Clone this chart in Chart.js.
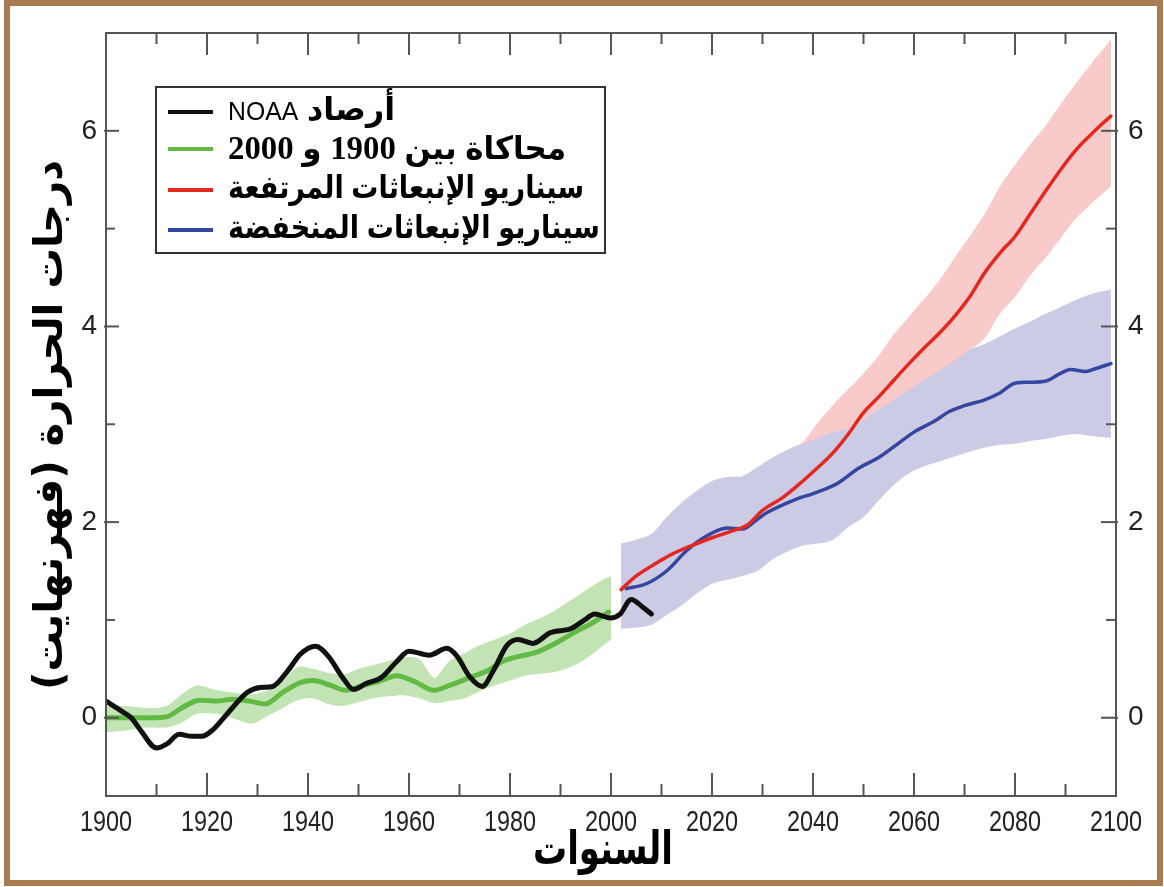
<!DOCTYPE html>
<html>
<head>
<meta charset="utf-8">
<script src="https://cdn.jsdelivr.net/npm/chart.js@4.4.1/dist/chart.umd.min.js"></script>
<style>
  html, body { margin: 0; padding: 0; background: #fff; }
  canvas { display: block; }
</style>
</head>
<body>
<canvas id="chart" width="1164" height="887"></canvas>
<script>
// ---- tick labels and texts ----
const xTickYears = [1900, 1920, 1940, 1960, 1980, 2000, 2020, 2040, 2060, 2080, 2100];
const yTickValues = [0, 2, 4, 6];
const seriesLabels = [
  'أرصاد NOAA',
  'محاكاة بين 1900 و 2000',
  'سيناريو الإنبعاثات المرتفعة',
  'سيناريو الإنبعاثات المنخفضة'
];
const xAxisTitle = 'السنوات';
const yAxisTitle = 'درجات الحرارة (فهرنهايت)';

// ---- NOAA observations (smoothed) ----
const noaaYears = [1900, 1903, 1905, 1907, 1910, 1912, 1914.5, 1917, 1919, 1921, 1923, 1925, 1928, 1930.5, 1933, 1936, 1938.5, 1941.5, 1944, 1947, 1949, 1951.5, 1954.5, 1957.5, 1960, 1964, 1967.5, 1969.5, 1972, 1974.5, 1976.7, 1979.4, 1981.6, 1984.5, 1988, 1992, 1994.5, 1996.8, 1999.8, 2001.8, 2004, 2006.3, 2008];
const noaaTemps = [0.17, 0.07, 0.0, -0.14, -0.31, -0.27, -0.17, -0.19, -0.19, -0.13, -0.02, 0.10, 0.26, 0.31, 0.32, 0.48, 0.65, 0.73, 0.63, 0.40, 0.29, 0.35, 0.41, 0.57, 0.68, 0.64, 0.71, 0.63, 0.42, 0.32, 0.48, 0.74, 0.80, 0.76, 0.87, 0.91, 0.99, 1.06, 1.02, 1.06, 1.21, 1.13, 1.06];

// ---- model simulation 1900-2000 ----
const simYears = [1900, 1904, 1909, 1912, 1915, 1918.5, 1922, 1925, 1928.5, 1931.5, 1935, 1938.5, 1941, 1944.5, 1947.5, 1951, 1954.5, 1957.5, 1961.5, 1964.8, 1968, 1972, 1975.5, 1978.7, 1982, 1985.3, 1989.3, 1993.3, 1996, 1999.5];
const simTemps = [0.00, 0.00, 0.00, 0.01, 0.10, 0.18, 0.17, 0.19, 0.17, 0.14, 0.26, 0.36, 0.38, 0.33, 0.28, 0.33, 0.38, 0.43, 0.36, 0.28, 0.33, 0.41, 0.48, 0.58, 0.63, 0.67, 0.77, 0.89, 0.96, 1.08];
const simBandYears = [1900, 1904, 1908, 1912, 1915, 1918, 1922, 1926, 1929, 1932, 1935, 1938, 1941, 1944, 1947, 1950, 1953, 1956, 1959, 1962, 1965, 1968, 1971, 1974, 1977, 1980, 1983, 1986, 1989, 1992, 1995, 1998, 2000];
const simBandHigh = [0.12, 0.12, 0.10, 0.12, 0.24, 0.33, 0.28, 0.25, 0.24, 0.28, 0.38, 0.52, 0.50, 0.46, 0.44, 0.50, 0.54, 0.58, 0.62, 0.60, 0.41, 0.58, 0.66, 0.74, 0.80, 0.86, 0.95, 1.02, 1.10, 1.20, 1.30, 1.40, 1.45];
const simBandLow = [-0.15, -0.13, -0.10, -0.10, -0.05, 0.04, 0.04, -0.02, -0.06, 0.02, 0.10, 0.18, 0.20, 0.14, 0.12, 0.16, 0.20, 0.22, 0.23, 0.20, 0.15, 0.17, 0.20, 0.27, 0.33, 0.38, 0.43, 0.45, 0.47, 0.52, 0.60, 0.72, 0.80];

// ---- high emissions scenario ----
const highYears = [2002, 2005, 2008, 2012, 2016, 2020, 2024, 2027, 2030, 2034, 2038, 2041, 2044, 2047, 2050, 2053, 2056, 2059, 2062, 2065, 2068, 2071, 2074, 2077, 2080, 2083, 2086, 2089, 2092, 2095, 2097, 2099];
const highTemps = [1.31, 1.45, 1.55, 1.67, 1.76, 1.84, 1.91, 1.97, 2.12, 2.25, 2.42, 2.56, 2.71, 2.90, 3.12, 3.28, 3.45, 3.62, 3.78, 3.93, 4.10, 4.30, 4.55, 4.75, 4.92, 5.15, 5.38, 5.60, 5.80, 5.96, 6.06, 6.15];

// ---- low emissions scenario ----
const lowYears = [2003, 2007, 2011, 2015, 2019, 2023, 2026, 2029, 2031, 2036, 2041, 2045, 2049, 2053, 2056, 2060, 2064, 2067, 2070, 2074, 2077, 2080, 2083, 2086, 2089, 2091, 2094, 2096, 2099];
const lowTemps = [1.32, 1.37, 1.50, 1.71, 1.86, 1.94, 1.93, 2.03, 2.10, 2.22, 2.31, 2.40, 2.55, 2.66, 2.77, 2.92, 3.03, 3.13, 3.19, 3.25, 3.32, 3.42, 3.43, 3.44, 3.52, 3.56, 3.54, 3.57, 3.62];

// ---- scenario ranges ----
const scenBandYears = [2002, 2005, 2008, 2011, 2014, 2017, 2020, 2023, 2026, 2029, 2032, 2035, 2038, 2041, 2044, 2047, 2050, 2053, 2056, 2059, 2062, 2065, 2068, 2071, 2074, 2077, 2080, 2083, 2086, 2089, 2092, 2095, 2099];
const highBandHigh = [1.70, 1.75, 1.85, 1.95, 2.05, 2.15, 2.25, 2.33, 2.40, 2.50, 2.64, 2.74, 2.82, 3.02, 3.20, 3.36, 3.52, 3.70, 3.92, 4.10, 4.28, 4.47, 4.70, 4.92, 5.15, 5.43, 5.65, 5.86, 6.05, 6.27, 6.48, 6.68, 6.93];
const highBandLow = [0.95, 1.00, 1.10, 1.20, 1.30, 1.40, 1.50, 1.55, 1.60, 1.70, 1.80, 1.90, 2.00, 2.15, 2.30, 2.45, 2.65, 2.80, 2.95, 3.10, 3.25, 3.40, 3.55, 3.75, 3.88, 4.13, 4.30, 4.52, 4.70, 4.90, 5.10, 5.25, 5.43];
const lowBandHigh = [1.78, 1.82, 1.88, 2.05, 2.20, 2.32, 2.42, 2.46, 2.47, 2.56, 2.66, 2.74, 2.80, 2.86, 2.92, 2.96, 3.05, 3.15, 3.25, 3.35, 3.45, 3.55, 3.65, 3.76, 3.82, 3.90, 3.98, 4.05, 4.13, 4.20, 4.27, 4.33, 4.38];
const lowBandLow = [0.91, 0.92, 0.95, 1.05, 1.15, 1.27, 1.37, 1.41, 1.45, 1.50, 1.62, 1.70, 1.76, 1.78, 1.82, 1.95, 2.05, 2.22, 2.38, 2.50, 2.57, 2.62, 2.67, 2.72, 2.76, 2.79, 2.80, 2.83, 2.85, 2.88, 2.90, 2.88, 2.86];

// ---- colours ----
const COL_OBS = '#111111';
const COL_SIM = 'rgb(98,186,68)';
const COL_SIM_BAND = 'rgba(120,196,88,0.45)';
const COL_HIGH = 'rgb(228,40,32)';
const COL_HIGH_BAND = 'rgb(249,202,202)';
const COL_LOW = 'rgb(52,70,160)';
const COL_LOW_BAND = 'rgb(204,203,229)';
const COL_AXIS = '#555555';
const COL_FRAME = '#A97B50';

const pts = (xs, ys) => xs.map((x, i) => ({ x, y: ys[i] }));

const line = (label, xs, ys, color, width) => ({
  label, data: pts(xs, ys), borderColor: color, backgroundColor: color,
  borderWidth: width, pointRadius: 0, fill: false,
  cubicInterpolationMode: 'monotone', borderCapStyle: 'round', borderJoinStyle: 'round'
});
const edge = (xs, ys) => ({
  data: pts(xs, ys), borderWidth: 0, pointRadius: 0, fill: false, tension: 0.3,
  borderColor: 'rgba(0,0,0,0)'
});
const bandTop = (xs, ys, color, target) => ({
  data: pts(xs, ys), borderWidth: 0, pointRadius: 0, tension: 0.3,
  borderColor: 'rgba(0,0,0,0)', backgroundColor: color, fill: target
});

// dataset 0 is painted last (on top)
const datasets = [
  line(seriesLabels[0], noaaYears, noaaTemps, COL_OBS, 5),
  line(seriesLabels[1], simYears, simTemps, COL_SIM, 5),
  line(seriesLabels[2], highYears, highTemps, COL_HIGH, 3.5),
  line(seriesLabels[3], lowYears, lowTemps, COL_LOW, 3.5),
  edge(scenBandYears, lowBandLow),                                   // 4
  bandTop(scenBandYears, lowBandHigh, COL_LOW_BAND, 4),              // 5
  edge(scenBandYears, highBandLow),                                  // 6
  bandTop(scenBandYears, highBandHigh, COL_HIGH_BAND, 6),            // 7
  edge(simBandYears, simBandLow),                                    // 8
  bandTop(simBandYears, simBandHigh, COL_SIM_BAND, 8)                // 9
];

function strokeLine(ctx, x1, y1, x2, y2) {
  ctx.beginPath(); ctx.moveTo(x1, y1); ctx.lineTo(x2, y2); ctx.stroke();
}

// legend row: words laid out right-to-left, fitted between x0 and xEnd
function drawLegendRow(ctx, label, x0, baseline, xEnd) {
  const words = label.split(' ').reverse();
  const pieces = words.map(w => {
    let font;
    if (/[A-Za-z]/.test(w)) font = '25px "Liberation Sans", Arial, sans-serif';
    else if (/^[0-9]+$/.test(w)) font = 'bold 34px "Liberation Serif", "Times New Roman", serif';
    else font = 'bold 32px "DejaVu Sans", sans-serif';
    ctx.font = font;
    return { w, font, width: ctx.measureText(w).width };
  });
  const gap = 9;
  const total = pieces.reduce((s, p) => s + p.width, 0) + gap * (pieces.length - 1);
  const sx = (xEnd - x0) / total;
  ctx.save();
  ctx.translate(x0, baseline);
  ctx.scale(sx, 1);
  ctx.fillStyle = '#000';
  ctx.textAlign = 'left';
  ctx.textBaseline = 'alphabetic';
  let cx = 0;
  pieces.forEach(p => {
    ctx.font = p.font;
    ctx.fillText(p.w, cx, 0);
    cx += p.width + gap;
  });
  ctx.restore();
}

const decor = {
  id: 'decor',
  beforeDraw(chart) {
    const ctx = chart.ctx;
    ctx.save();
    ctx.fillStyle = '#ffffff';
    ctx.fillRect(0, 0, chart.width, chart.height);
    ctx.restore();
  },
  afterDraw(chart) {
    const ctx = chart.ctx;
    const { left, right, top, bottom } = chart.chartArea;
    const xs = chart.scales.x, ys = chart.scales.y;
    ctx.save();

    // plot box and inward ticks
    ctx.strokeStyle = COL_AXIS;
    ctx.lineWidth = 2;
    ctx.strokeRect(left, top, right - left, bottom - top);
    xTickYears.forEach((v, i) => {
      const px = xs.getPixelForValue(v);
      strokeLine(ctx, px, bottom, px, bottom - 23);
      strokeLine(ctx, px, top, px, top + 22);
      if (i < xTickYears.length - 1) {
        const pm = xs.getPixelForValue((v + xTickYears[i + 1]) / 2);
        strokeLine(ctx, pm, bottom, pm, bottom - 12);
        strokeLine(ctx, pm, top, pm, top + 11);
      }
    });
    yTickValues.forEach((v, i) => {
      const py = ys.getPixelForValue(v);
      strokeLine(ctx, left - 2, py, left + 13, py);
      strokeLine(ctx, right + 2, py, right - 15, py);
      if (i < yTickValues.length - 1) {
        const pm = ys.getPixelForValue((v + yTickValues[i + 1]) / 2);
        strokeLine(ctx, left, pm, left + 9, pm);
        strokeLine(ctx, right, pm, right - 10, pm);
      }
    });

    // year labels (condensed face)
    ctx.fillStyle = '#222';
    ctx.font = '30px "Liberation Sans", Arial, sans-serif';
    ctx.textAlign = 'center';
    ctx.textBaseline = 'alphabetic';
    xTickYears.forEach(v => {
      const px = xs.getPixelForValue(v);
      ctx.save();
      ctx.translate(px, 831);
      ctx.scale(0.78, 1);
      ctx.fillText(String(v), 0, 0);
      ctx.restore();
    });

    // axis titles
    ctx.fillStyle = '#000';
    ctx.font = 'bold 46px "DejaVu Sans", sans-serif';
    let w = ctx.measureText(xAxisTitle).width;
    ctx.save();
    ctx.translate((left + right) / 2 - 8, 864);
    ctx.scale(140 / w, 1);
    ctx.textAlign = 'center';
    ctx.fillText(xAxisTitle, 0, 0);
    ctx.restore();

    ctx.font = 'bold 40px "DejaVu Sans", sans-serif';
    w = ctx.measureText(yAxisTitle).width;
    ctx.save();
    ctx.translate(52, 425);
    ctx.rotate(-Math.PI / 2);
    ctx.scale(530 / w, 1);
    ctx.textAlign = 'center';
    ctx.textBaseline = 'middle';
    ctx.fillText(yAxisTitle, 0, 0);
    ctx.restore();

    // legend
    ctx.fillStyle = '#ffffff';
    ctx.fillRect(156, 87, 449, 166);
    ctx.strokeStyle = '#333';
    ctx.lineWidth = 2;
    ctx.strokeRect(156, 87, 449, 166);
    const rowLineY = [112, 149, 190, 230];
    const rowBase = [120, 159, 198, 238];
    const rowEnd = [395, 566, 584, 600];
    for (let i = 0; i < 4; i++) {
      ctx.strokeStyle = datasets[i].borderColor;
      ctx.lineWidth = 4;
      strokeLine(ctx, 168, rowLineY[i], 213, rowLineY[i]);
      drawLegendRow(ctx, datasets[i].label, 228, rowBase[i], rowEnd[i]);
    }

    // outer frame
    ctx.strokeStyle = COL_FRAME;
    ctx.lineWidth = 6;
    ctx.strokeRect(7, 3, 1153, 880);
    ctx.restore();
  }
};

const yTickFont = { family: '"Liberation Sans", Arial, sans-serif', size: 28 };

new Chart(document.getElementById('chart'), {
  type: 'line',
  data: { datasets },
  options: {
    responsive: false,
    animation: false,
    devicePixelRatio: 1,
    layout: { padding: { top: 33, left: 0, right: 0, bottom: 0 } },
    plugins: { legend: { display: false }, tooltip: { enabled: false } },
    scales: {
      x: {
        type: 'linear', min: 1900, max: 2100,
        ticks: { display: false },
        grid: { display: false }, border: { display: false },
        afterFit(s) { s.height = 91; }
      },
      y: {
        position: 'left', min: -0.8, max: 7,
        afterBuildTicks(s) { s.ticks = yTickValues.map(v => ({ value: v })); },
        ticks: { font: yTickFont, color: '#222', padding: 9 },
        grid: { display: false, drawTicks: false }, border: { display: false },
        afterFit(s) { s.width = 106; }
      },
      y2: {
        position: 'right', min: -0.8, max: 7,
        afterBuildTicks(s) { s.ticks = yTickValues.map(v => ({ value: v })); },
        ticks: { font: yTickFont, color: '#222', padding: 12 },
        grid: { display: false, drawTicks: false }, border: { display: false },
        afterFit(s) { s.width = 48; }
      }
    }
  },
  plugins: [decor]
});
</script>
</body>
</html>
